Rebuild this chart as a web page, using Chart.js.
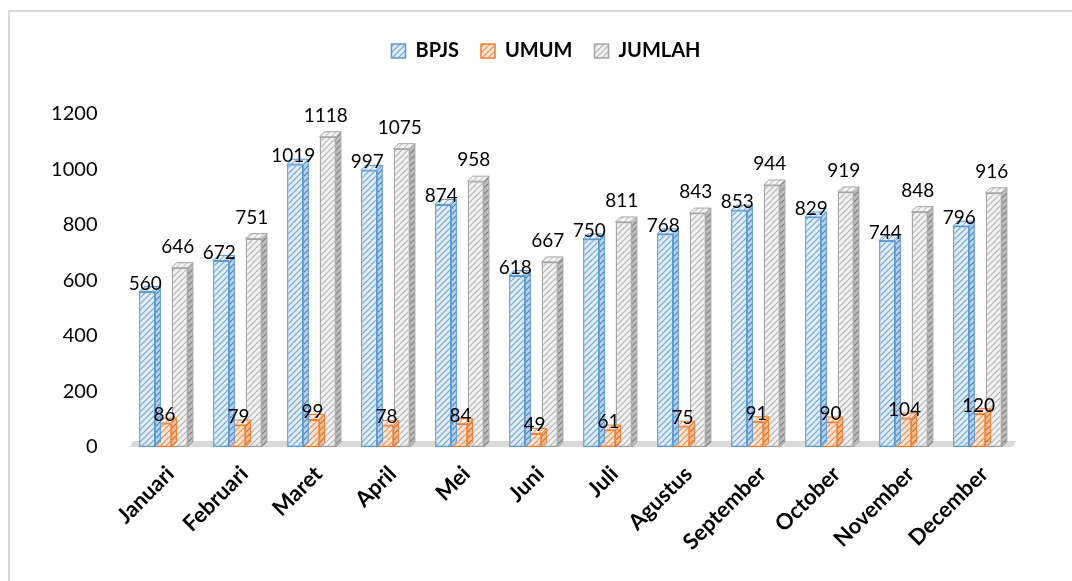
<!DOCTYPE html>
<html><head><meta charset="utf-8">
<script src="https://cdn.jsdelivr.net/npm/chart.js@4.4.0/dist/chart.umd.min.js"></script>
<style>
html,body{margin:0;padding:0;background:#fff;overflow:hidden;}
#frame{position:absolute;left:8px;top:10px;width:2000px;height:2000px;border-left:2px solid #d9d9d9;border-top:2px solid #d9d9d9;}
#wrap{position:absolute;left:0;top:0;width:1072px;height:581px;}
</style></head><body>
<div id="frame"></div>
<div id="wrap"><canvas id="c" width="1072" height="581"></canvas></div>
<script>
const categories = ['Januari','Februari','Maret','April','Mei','Juni','Juli','Agustus','September','October','November','December'];
const bpjs   = [560, 672, 1019, 997, 874, 618, 750, 768, 853, 829, 744, 796];
const umum   = [86, 79, 99, 78, 84, 49, 61, 75, 91, 90, 104, 120];
const jumlah = [646, 751, 1118, 1075, 958, 667, 811, 843, 944, 919, 848, 916];
const seriesNames = ['BPJS', 'UMUM', 'JUMLAH'];
const yTicks = [0, 200, 400, 600, 800, 1000, 1200];

function makePattern(bg, fg) {
  const s = 6;
  const cv = document.createElement('canvas');
  cv.width = s; cv.height = s;
  const g = cv.getContext('2d');
  g.fillStyle = bg; g.fillRect(0, 0, s, s);
  g.strokeStyle = fg; g.lineWidth = 1.2;
  g.beginPath();
  g.moveTo(-1, s + 1); g.lineTo(s + 1, -1);
  g.moveTo(-1, 1); g.lineTo(1, -1);
  g.moveTo(s - 1, s + 1); g.lineTo(s + 1, s - 1);
  g.stroke();
  return g.createPattern(cv, 'repeat');
}

const styles = [
  {front: makePattern('#e2edf8', '#6fa6da'), side: makePattern('#b9d2ee', '#4a86c5'), top: makePattern('#eef4fb', '#8fb9e3'), border: '#5b9bd5', labelOff: 2},
  {front: makePattern('#fde6d6', '#f08c4c'), side: makePattern('#f4c09a', '#d5691f'), top: makePattern('#fef0e6', '#f4a775'), border: '#ed7d31', labelOff: 2},
  {front: makePattern('#f2f2f2', '#b5b5b5'), side: makePattern('#bdbdbd', '#7f7f7f'), top: makePattern('#f6f6f6', '#c4c4c4'), border: '#a5a5a5', labelOff: 15}
];
const DEPTH = 5;

Chart.defaults.font.family = 'Lato, "Open Sans", sans-serif';
Chart.defaults.color = '#000';

const legendSpacer = {
  id: 'legendSpacer',
  beforeLayout(chart) {
    const lg = chart.legend;
    if (lg && !lg._patched) {
      const fit = lg.fit;
      lg.fit = function () { fit.call(this); this.height += 43; };
      lg._patched = true;
    }
  }
};

const floor3d = {
  id: 'floor3d',
  beforeDatasetsDraw(chart) {
    const {ctx, chartArea: a} = chart;
    const B = a.bottom;
    ctx.save();
    ctx.fillStyle = '#d9d9d9';
    ctx.beginPath();
    ctx.moveTo(a.left + 3, B);
    ctx.lineTo(a.right - 2, B);
    ctx.lineTo(a.right + 2, B - 6);
    ctx.lineTo(a.left + 7, B - 6);
    ctx.closePath();
    ctx.fill();
    ctx.restore();
  }
};

const bars3d = {
  id: 'bars3d',
  afterDatasetDraw(chart, args) {
    const {ctx} = chart;
    const st = styles[args.index];
    const d = DEPTH;
    ctx.save();
    ctx.lineWidth = 1;
    ctx.strokeStyle = st.border;
    args.meta.data.forEach(el => {
      const p = el.getProps(['x', 'y', 'base', 'width'], true);
      const l = p.x - p.width / 2, r = p.x + p.width / 2;
      ctx.beginPath();
      ctx.moveTo(r, p.base);
      ctx.lineTo(r + d, p.base - d);
      ctx.lineTo(r + d, p.y - d);
      ctx.lineTo(r, p.y);
      ctx.closePath();
      ctx.fillStyle = st.side; ctx.fill(); ctx.stroke();
      ctx.beginPath();
      ctx.moveTo(l, p.y);
      ctx.lineTo(l + d, p.y - d);
      ctx.lineTo(r + d, p.y - d);
      ctx.lineTo(r, p.y);
      ctx.closePath();
      ctx.fillStyle = st.top; ctx.fill(); ctx.stroke();
    });
    ctx.restore();
  }
};

const valueLabels = {
  id: 'valueLabels',
  afterDatasetsDraw(chart) {
    const {ctx} = chart;
    ctx.save();
    ctx.font = '19px Lato, "Open Sans", sans-serif';
    ctx.fillStyle = '#000';
    ctx.textAlign = 'center';
    ctx.textBaseline = 'alphabetic';
    chart.data.datasets.forEach((ds, i) => {
      const meta = chart.getDatasetMeta(i);
      meta.data.forEach((el, j) => {
        const p = el.getProps(['x', 'y'], true);
        ctx.fillText(String(ds.data[j]), p.x + (i === 1 ? 1 : -2), p.y - styles[i].labelOff);
      });
    });
    ctx.restore();
  }
};

const seriesData = [bpjs, umum, jumlah];
const datasets = seriesData.map((arr, i) => ({
  label: seriesNames[i],
  data: arr,
  backgroundColor: styles[i].front,
  borderColor: styles[i].border,
  borderWidth: 1.5,
  borderSkipped: false,
  categoryPercentage: 0.66,
  barPercentage: 1.0
}));

new Chart(document.getElementById('c'), {
  type: 'bar',
  data: {labels: categories, datasets},
  options: {
    responsive: false,
    animation: false,
    devicePixelRatio: 1,
    layout: {padding: {top: 19, right: 0, bottom: 0, left: 20}},
    plugins: {
      tooltip: {enabled: false},
      legend: {
        position: 'top',
        align: 'center',
        labels: {
          boxWidth: 14, boxHeight: 14, padding: 22,
          font: {size: 20, weight: 'bold'}, color: '#000'
        }
      }
    },
    scales: {
      x: {
        grid: {display: false, drawTicks: false},
        border: {display: false},
        ticks: {
          autoSkip: false, maxRotation: 45, minRotation: 45, padding: 14, labelOffset: 7,
          font: {size: 22, weight: 'bold'}, color: '#000'
        },
        afterFit(s) { s.height = 134; }
      },
      y: {
        min: 0, max: 1200,
        grid: {display: false, drawTicks: false},
        border: {display: false},
        afterBuildTicks(s) { s.ticks = yTicks.map(v => ({value: v})); },
        ticks: {padding: 29, font: {size: 20}, color: '#000', callback: v => String(v)},
        afterFit(s) { s.width = 106.5; }
      },
      yRight: {
        type: 'linear',
        position: 'right',
        display: true,
        grid: {display: false, drawTicks: false},
        border: {display: false},
        ticks: {display: false},
        afterFit(s) { s.width = 57.5; }
      }
    }
  },
  plugins: [legendSpacer, floor3d, bars3d, valueLabels]
});
</script>
</body></html>
